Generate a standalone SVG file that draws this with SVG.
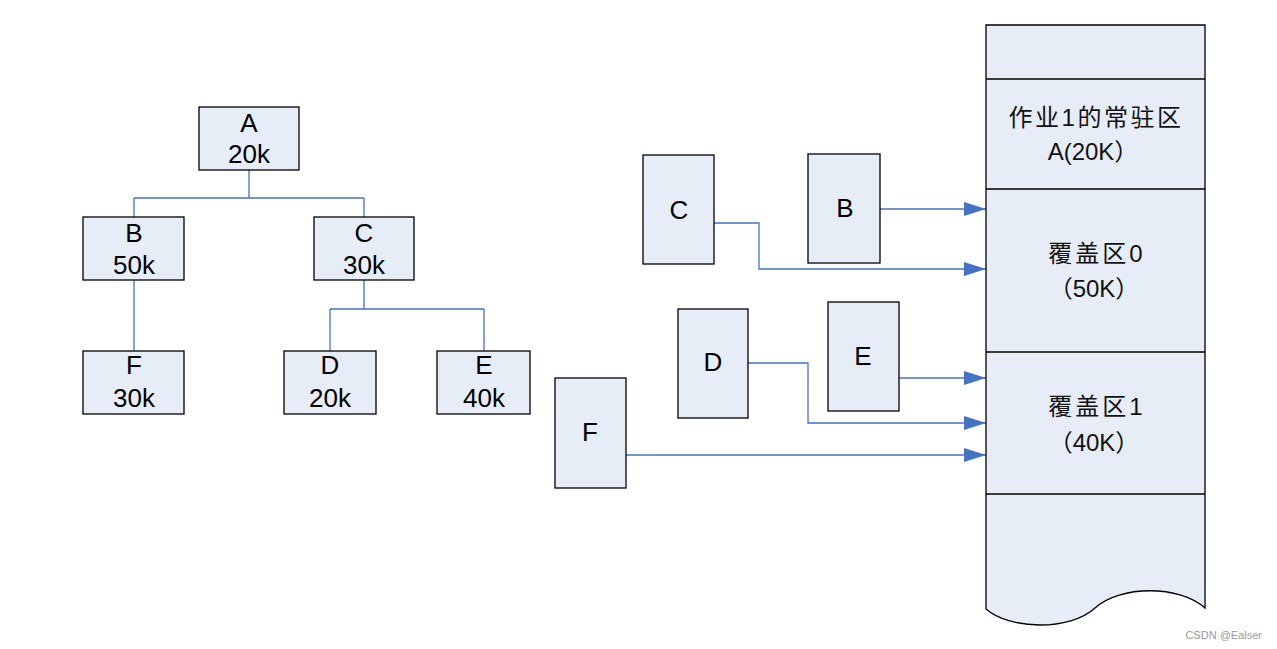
<svg xmlns="http://www.w3.org/2000/svg" width="1277" height="649" viewBox="0 0 1277 649">
<style>
.box{fill:#e7edf7;stroke:#000;stroke-width:1.3}
.conn{fill:none;stroke:#4472c4;stroke-width:1.3}
.t{font-family:"Liberation Sans","Noto Sans CJK SC",sans-serif;font-size:26px;fill:#000;text-anchor:middle}
.m{font-family:"Liberation Sans","Noto Sans CJK SC",sans-serif;font-size:24px;fill:#111;text-anchor:middle}
.sep{stroke:#000;stroke-width:1.3}
</style>
<defs>
<marker id="arr" markerUnits="userSpaceOnUse" markerWidth="24" markerHeight="16" refX="22" refY="7" orient="auto">
<path d="M0,0 L22,7 L0,14 Z" fill="#4472c4"/>
</marker>
</defs>
<rect width="1277" height="649" fill="#fff"/>

<g id="connectors">
<path class="conn" d="M249,170 V198 M134,198 H364 M134,198 V217 M364,198 V217"/>
<path class="conn" d="M134,280 V351"/>
<path class="conn" d="M364,280 V309 M330,309 H484 M330,309 V351 M484,309 V351"/>
<path class="conn" d="M880,209 H986" marker-end="url(#arr)"/>
<path class="conn" d="M714,223 H759 V269 H986" marker-end="url(#arr)"/>
<path class="conn" d="M899,378 H986" marker-end="url(#arr)"/>
<path class="conn" d="M748,363 H808 V423 H986" marker-end="url(#arr)"/>
<path class="conn" d="M626,455 H986" marker-end="url(#arr)"/>
</g>

<g id="tree-A"><rect class="box" x="199" y="107" width="100" height="63"/><text class="t" x="249" y="132">A</text><text class="t" x="249" y="163">20k</text></g>
<g id="tree-B"><rect class="box" x="83" y="217" width="101" height="63"/><text class="t" x="134" y="242">B</text><text class="t" x="134" y="274">50k</text></g>
<g id="tree-C"><rect class="box" x="314" y="217" width="100" height="63"/><text class="t" x="364" y="242">C</text><text class="t" x="364" y="274">30k</text></g>
<g id="tree-F"><rect class="box" x="83" y="351" width="101" height="63"/><text class="t" x="134" y="374">F</text><text class="t" x="134" y="407">30k</text></g>
<g id="tree-D"><rect class="box" x="284" y="351" width="92" height="63"/><text class="t" x="330" y="374">D</text><text class="t" x="330" y="407">20k</text></g>
<g id="tree-E"><rect class="box" x="437" y="351" width="93" height="63"/><text class="t" x="484" y="374">E</text><text class="t" x="484" y="407">40k</text></g>

<g id="ov-C"><rect class="box" x="643" y="155" width="71" height="109"/><text class="t" x="679" y="219">C</text></g>
<g id="ov-B"><rect class="box" x="808" y="154" width="72" height="109"/><text class="t" x="845" y="217">B</text></g>
<g id="ov-D"><rect class="box" x="678" y="309" width="70" height="109"/><text class="t" x="713" y="371">D</text></g>
<g id="ov-E"><rect class="box" x="828" y="302" width="71" height="109"/><text class="t" x="863" y="365">E</text></g>
<g id="ov-F"><rect class="box" x="555" y="378" width="71" height="110"/><text class="t" x="590" y="441">F</text></g>

<g id="memory">
<path class="box" d="M986,25 H1205 V608 C1180,585 1120,585 1095,608 C1070,631 1010,630 986,609 Z"/>
<line class="sep" x1="986" y1="79" x2="1205" y2="79"/>
<line class="sep" x1="986" y1="189" x2="1205" y2="189"/>
<line class="sep" x1="986" y1="352" x2="1205" y2="352"/>
<line class="sep" x1="986" y1="494" x2="1205" y2="494"/>
<text class="m" x="1096" y="126" letter-spacing="2.5">作业1的常驻区</text>
<text class="m" x="1093" y="160">A(20K）</text>
<text class="m" x="1097" y="262" letter-spacing="3">覆盖区0</text>
<text class="m" x="1094" y="297">（50K）</text>
<text class="m" x="1097" y="415" letter-spacing="3">覆盖区1</text>
<text class="m" x="1094" y="451">（40K）</text>
</g>

<text x="1262" y="639" font-family="Liberation Sans,sans-serif" font-size="11" fill="#999" text-anchor="end">CSDN @Ealser</text>
</svg>
